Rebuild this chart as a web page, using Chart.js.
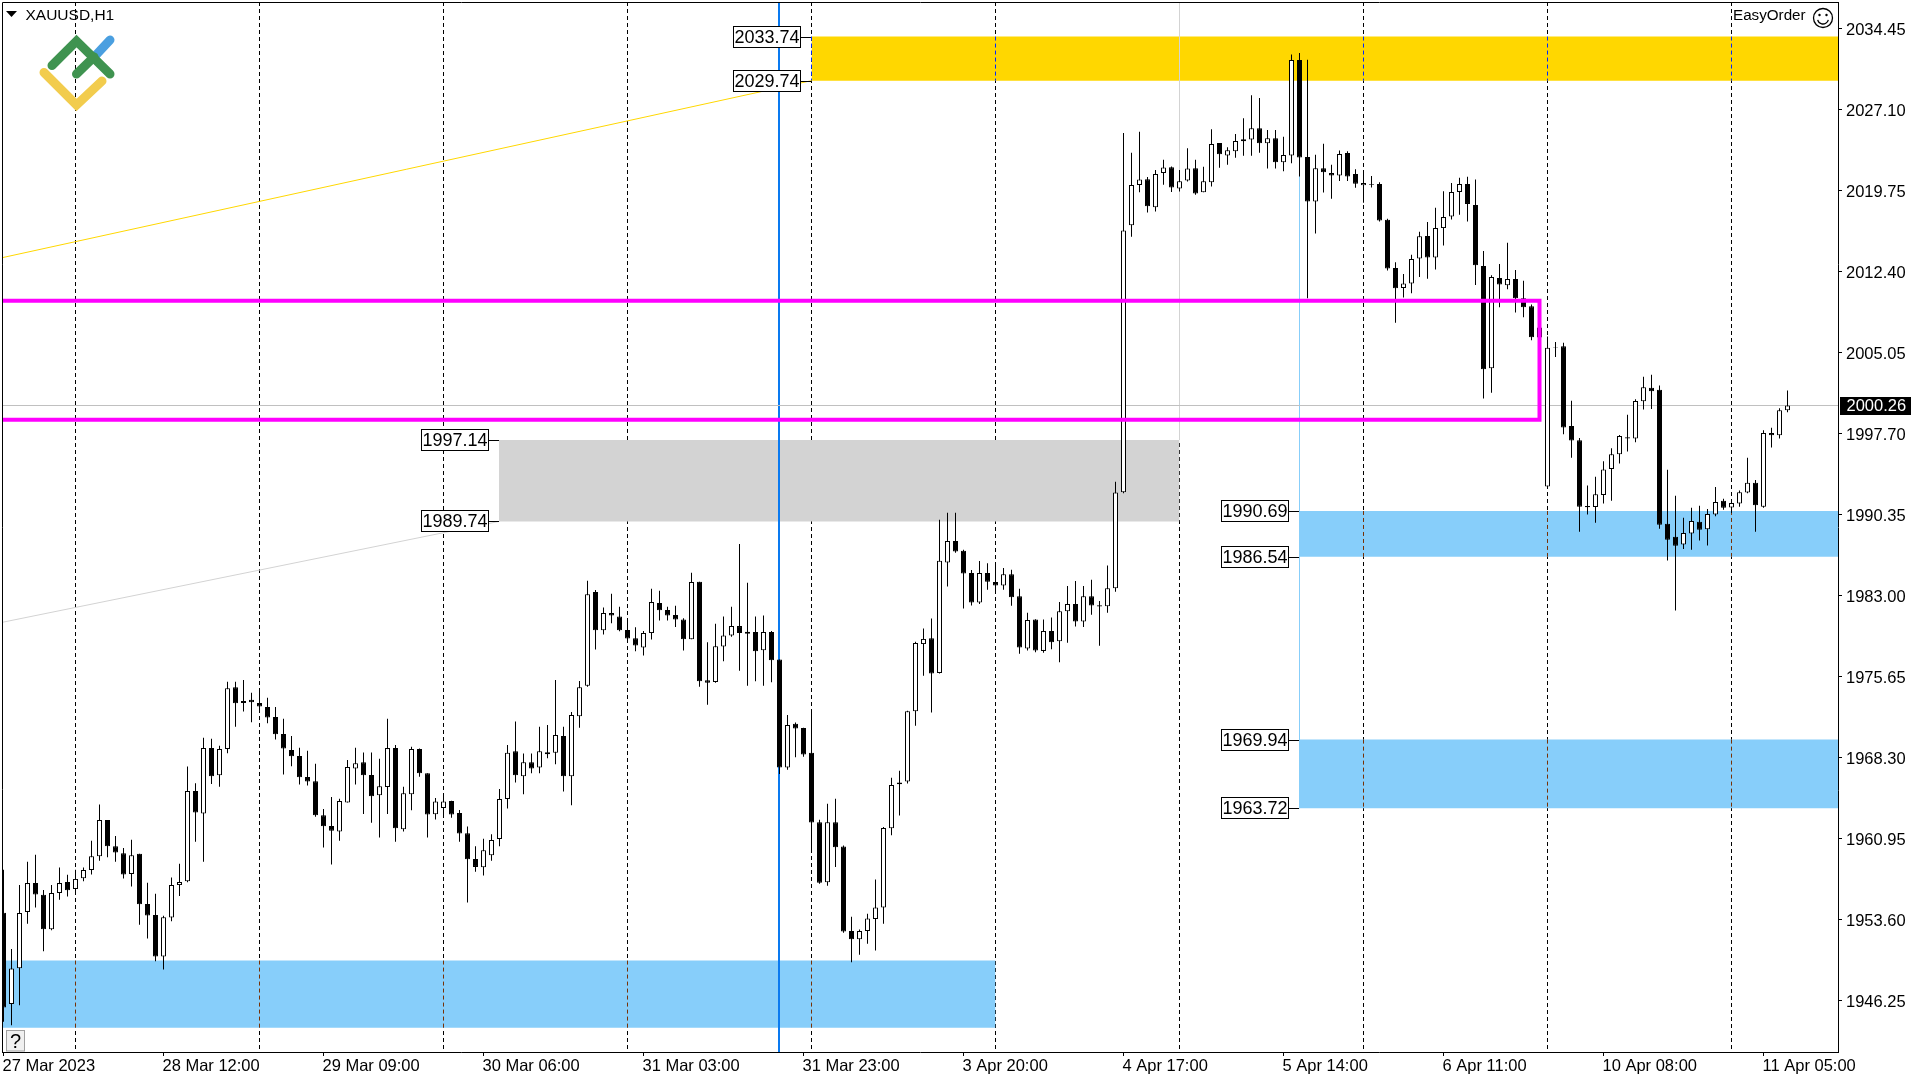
<!DOCTYPE html>
<html><head><meta charset="utf-8"><title>XAUUSD,H1</title>
<script src="https://cdn.jsdelivr.net/npm/chart.js@4/dist/chart.umd.js"></script>
<style>html,body{margin:0;padding:0;background:#fff}canvas{display:block}</style>
</head><body><canvas id="c" width="1920" height="1080"></canvas>
<script>
const opens=[1954.24,1945.95,1949.20,1954.30,1956.92,1955.86,1952.74,1956.02,1957.02,1956.39,
1957.36,1958.11,1959.36,1962.64,1960.27,1959.64,1957.74,1959.58,1955.02,1954.02,
1950.27,1953.80,1956.74,1957.08,1965.27,1963.24,1969.17,1966.70,1969.08,1974.70,
1973.27,1973.55,1973.27,1972.89,1971.99,1970.45,1968.99,1968.45,1966.55,1966.17,
1963.08,1962.11,1961.61,1964.24,1967.33,1967.89,1966.74,1964.89,1965.64,1969.17,
1961.80,1964.99,1969.08,1966.89,1963.17,1963.74,1964.36,1963.27,1961.45,1959.11,
1958.36,1959.45,1960.92,1964.55,1968.89,1966.61,1967.89,1967.42,1968.80,1968.74,
1970.27,1966.61,1972.05,1974.83,1983.33,1979.86,1981.42,1981.11,1979.89,1979.14,
1978.30,1979.61,1982.33,1981.70,1981.24,1980.83,1979.05,1984.27,1975.33,1975.17,
1978.39,1979.39,1980.24,1979.74,1979.70,1978.05,1979.70,1977.20,1967.42,1971.39,
1970.99,1968.74,1962.45,1956.99,1962.45,1960.24,1952.58,1951.83,1952.58,1953.67,
1954.70,1961.89,1965.89,1966.14,1972.52,1978.61,1979.14,1975.99,1986.02,1987.96,
1987.08,1985.05,1982.39,1985.05,1984.24,1983.92,1984.95,1982.95,1978.20,1980.83,
1977.99,1979.80,1978.86,1981.58,1982.24,1980.67,1982.95,1982.14,1982.05,1983.67,
1992.39,2016.61,2020.27,2020.80,2018.24,2021.36,2021.89,2019.95,2020.67,2021.80,
2019.61,2020.52,2024.08,2022.95,2023.33,2024.24,2024.39,2025.42,2024.05,2024.52,
2022.33,2022.95,2031.61,2022.80,2018.77,2021.80,2021.36,2021.14,2023.17,2021.27,
2020.24,2020.36,2020.36,2017.11,2012.74,2010.92,2011.33,2013.61,2015.64,2013.70,
2016.36,2017.42,2019.64,2020.36,2018.45,2012.92,2003.64,2011.83,2011.17,2011.74,
2009.99,2009.27,2007.34,1992.92,2005.52,2005.64,1998.39,1997.11,1991.14,1991.05,
1992.14,1994.49,1995.83,1997.39,1997.27,2000.64,2001.86,2001.70,1989.53,1988.35,
1987.65,1988.65,1989.71,1989.02,1990.38,1991.62,1991.01,1991.36,1992.36,1993.24,
1991.08,1997.77,1997.55,1999.83];
const highs=[1958.14,1950.95,1956.74,1958.86,1959.49,1956.30,1956.74,1958.33,1957.67,1958.14,
1958.33,1960.77,1964.05,1962.64,1961.20,1960.11,1960.86,1959.58,1956.95,1955.95,
1953.95,1957.42,1958.67,1967.49,1965.99,1970.11,1970.02,1969.39,1975.20,1975.20,
1975.36,1974.20,1974.42,1973.74,1972.89,1971.83,1970.27,1969.20,1968.92,1967.74,
1963.64,1964.74,1964.58,1968.08,1969.20,1968.77,1968.77,1968.20,1971.83,1969.45,
1965.67,1969.30,1969.14,1966.89,1964.64,1964.89,1964.39,1963.55,1962.05,1960.27,
1960.95,1961.36,1965.45,1969.45,1971.58,1968.67,1968.67,1971.11,1971.27,1975.36,
1971.11,1972.45,1975.27,1984.36,1983.52,1981.92,1983.17,1981.99,1980.83,1980.14,
1979.80,1983.64,1983.45,1981.99,1982.08,1980.95,1985.08,1984.27,1978.77,1980.45,
1981.11,1981.99,1987.70,1984.17,1981.11,1981.20,1979.80,1977.20,1972.17,1971.49,
1971.02,1972.61,1962.67,1964.11,1964.58,1960.33,1953.86,1952.70,1954.14,1957.24,
1962.02,1966.49,1967.11,1972.55,1978.83,1980.02,1980.92,1989.89,1990.53,1990.53,
1987.18,1985.33,1986.14,1985.95,1985.70,1985.52,1985.36,1983.64,1981.45,1980.86,
1980.83,1981.02,1982.42,1983.89,1984.33,1983.89,1984.45,1982.52,1985.74,1993.33,
2024.99,2023.20,2025.11,2020.99,2021.64,2022.55,2021.95,2021.64,2023.61,2022.55,
2021.92,2025.33,2024.08,2023.70,2024.89,2026.33,2028.42,2028.17,2025.27,2025.27,
2024.64,2032.11,2032.24,2031.64,2023.02,2024.02,2022.11,2023.39,2023.33,2021.70,
2021.64,2021.08,2020.52,2017.20,2013.27,2012.20,2013.95,2016.02,2016.92,2018.20,
2019.70,2020.45,2020.92,2021.02,2020.77,2014.27,2012.08,2013.11,2015.02,2012.55,
2011.58,2009.42,2007.34,2006.52,2006.02,2005.95,2000.70,1997.30,1992.99,1993.80,
1995.20,1996.39,1997.58,1999.42,2000.83,2002.86,2003.05,2002.08,1994.43,1992.07,
1990.08,1990.98,1991.16,1990.87,1992.86,1991.80,1991.71,1992.55,1995.52,1993.49,
1998.02,1998.24,2000.02,2001.61];
const lows=[1944.33,1944.02,1945.83,1953.24,1954.70,1950.74,1952.64,1955.42,1955.70,1956.14,
1957.08,1957.70,1958.95,1959.27,1958.86,1957.33,1956.61,1953.14,1951.89,1949.83,
1949.08,1953.45,1955.74,1956.99,1960.67,1958.86,1965.92,1965.67,1968.70,1971.11,
1972.49,1971.52,1972.45,1971.42,1969.95,1966.77,1967.52,1965.86,1965.77,1962.95,
1960.14,1958.61,1960.77,1964.24,1965.86,1963.20,1962.39,1961.05,1963.20,1960.67,
1961.61,1963.52,1966.58,1961.05,1962.70,1962.92,1962.86,1960.67,1955.17,1957.95,
1957.61,1958.95,1960.27,1963.70,1966.05,1964.99,1966.89,1966.89,1968.24,1967.70,
1965.24,1963.99,1971.02,1974.74,1978.11,1979.49,1980.49,1979.77,1978.99,1977.95,
1977.58,1979.02,1980.74,1980.74,1980.17,1978.02,1979.05,1974.74,1973.11,1975.11,
1977.05,1979.27,1976.20,1974.83,1975.24,1974.83,1975.14,1966.83,1967.20,1968.33,
1968.39,1959.89,1956.86,1956.67,1958.39,1952.42,1949.74,1950.42,1951.42,1950.80,
1953.24,1961.27,1963.05,1965.95,1971.20,1975.74,1972.39,1975.95,1983.84,1986.90,
1981.83,1982.11,1982.24,1983.55,1983.33,1983.55,1982.08,1977.74,1978.02,1977.86,
1977.83,1978.14,1976.95,1978.74,1980.20,1980.17,1981.27,1978.45,1981.45,1983.36,
1992.30,2015.58,2019.61,2017.77,2017.86,2020.30,2019.64,2019.67,2020.58,2019.39,
2019.61,2020.14,2021.83,2022.11,2022.74,2022.92,2022.92,2023.20,2021.77,2021.77,
2021.52,2022.24,2021.05,2009.99,2015.86,2019.58,2019.02,2020.64,2020.64,2020.02,
2018.67,2020.05,2016.95,2012.52,2007.77,2010.05,2010.45,2011.92,2011.77,2012.61,
2014.77,2017.14,2017.58,2016.95,2011.20,2000.89,2001.42,2009.17,2010.80,2008.70,
2008.27,2006.17,2006.30,1992.92,2004.67,1997.64,1995.52,1988.80,1990.36,1989.61,
1991.36,1991.61,1994.99,1996.08,1996.92,1999.89,1999.95,1989.08,1986.20,1981.66,
1987.24,1987.17,1988.02,1987.56,1990.20,1990.80,1990.50,1991.08,1992.30,1988.80,
1990.99,1996.45,1997.27,1999.64];
const closes=[1945.64,1949.17,1954.20,1956.92,1955.89,1952.74,1956.02,1956.92,1956.27,1957.30,
1958.11,1959.36,1962.64,1960.27,1959.70,1957.70,1959.45,1954.99,1953.99,1950.27,
1953.83,1956.74,1957.02,1965.27,1963.33,1969.17,1966.61,1969.08,1974.61,1973.24,
1973.45,1973.33,1972.95,1971.95,1970.42,1969.14,1968.42,1966.52,1966.14,1963.08,
1962.08,1961.67,1964.36,1967.45,1967.80,1966.70,1964.80,1965.70,1969.17,1961.89,
1965.08,1969.08,1966.89,1963.14,1964.33,1964.33,1963.14,1961.42,1959.08,1958.39,
1959.89,1960.83,1964.55,1968.74,1966.70,1967.89,1967.33,1968.89,1968.61,1970.36,
1966.61,1972.17,1974.70,1983.14,1979.86,1981.42,1981.20,1979.86,1979.11,1978.49,
1979.61,1982.42,1981.67,1981.20,1980.83,1979.05,1984.24,1975.24,1975.11,1978.42,
1979.39,1980.24,1979.61,1979.55,1977.95,1979.70,1977.14,1967.42,1971.27,1970.95,
1968.58,1962.42,1956.95,1962.45,1960.17,1952.52,1951.83,1952.58,1953.70,1954.70,
1961.92,1965.83,1966.05,1972.52,1978.70,1979.08,1975.95,1986.17,1987.96,1987.02,
1985.02,1982.39,1985.05,1984.27,1983.92,1984.95,1982.86,1978.30,1980.80,1978.02,
1979.80,1978.77,1981.58,1982.24,1980.67,1982.95,1982.11,1982.02,1983.67,1992.36,
2016.14,2020.27,2020.77,2018.33,2021.27,2021.86,2020.05,2020.61,2021.77,2019.49,
2020.61,2023.99,2023.05,2023.42,2024.27,2024.42,2025.42,2024.05,2024.52,2022.33,
2022.99,2031.61,2022.77,2018.77,2021.80,2021.42,2021.14,2023.08,2021.05,2020.39,
2020.45,2020.30,2017.05,2012.70,2010.89,2011.33,2013.55,2015.61,2013.70,2016.36,
2017.36,2019.64,2020.36,2018.55,2012.99,2003.55,2011.92,2011.24,2011.74,2009.99,
2009.17,2006.45,2006.44,2005.49,2005.58,1998.27,1997.08,1991.08,1991.02,1992.20,
1994.45,1995.83,1997.49,1997.27,2000.67,2001.92,2001.55,1989.44,1988.08,1987.54,
1988.69,1989.78,1988.99,1990.41,1991.50,1990.98,1991.41,1992.39,1993.24,1991.20,
1997.77,1997.55,1999.83,2000.26];

const priceTicks=[2034.45,2027.10,2019.75,2012.40,2005.05,1997.70,1990.35,1983.00,1975.65,1968.30,1960.95,1953.60,1946.25];
const timeLabels=['27 Mar 2023','28 Mar 12:00','29 Mar 09:00','30 Mar 06:00','31 Mar 03:00','31 Mar 23:00','3 Apr 20:00','4 Apr 17:00','5 Apr 14:00','6 Apr 11:00','10 Apr 08:00','11 Apr 05:00'];
const timeTickBars=[0,20,40,60,80,100,120,140,160,180,200,220];
const gridBars=[9,32,55,78,101,124,147,170,193,216];
const lastPrice=2000.26;
const xMin=-0.1875, xMax=229.3125, yMax=2036.876, yMin=1941.593;

const goldZone=[2033.74,2029.74], goldFrom=101;
const grayZone=[1997.14,1989.74], grayFrom=61.94, grayTo=147;
const blueLow=[1949.89,1943.80], blueLowTo=124;
const blueA=[1990.69,1986.54], blueB=[1969.94,1963.72], blueFrom=162;
const magenta=[2009.77,1998.97], magentaTo=192;
const goldTrend=[2013.67,2029.74];
const grayTrend=[1980.58,1989.74];
const cursorBar=96.9375;
const callouts=[[101,2033.74],[101,2029.74],[61.94,1997.14],[61.94,1989.74],[162,1990.69],[162,1986.54],[162,1969.94],[162,1963.72]];

const line=(pts,color,w,order,extra)=>Object.assign({type:'line',data:pts.map(p=>({x:p[0],y:p[1]})),borderColor:color,borderWidth:w,pointRadius:0,tension:0,fill:false,order},extra||{});
const zone=(x0,x1,z,color,order)=>({type:'line',data:[{x:x0,y:z[0]},{x:x1,y:z[0]}],borderWidth:0,borderColor:color,backgroundColor:color,pointRadius:0,tension:0,fill:{value:z[1]},order});
const DASH=[4,3];
const datasets=[];
// grid (lowest layer)
gridBars.forEach(b=>datasets.push(line([[b,yMax],[b,yMin]],'#000',1,90,{borderDash:DASH})));
// zones
datasets.push(zone(goldFrom,xMax,goldZone,'#FFD700',80));
datasets.push(zone(grayFrom,grayTo,grayZone,'#D3D3D3',80));
datasets.push(zone(xMin,blueLowTo,blueLow,'#87CEFA',80));
datasets.push(zone(blueFrom,xMax,blueA,'#87CEFA',80));
datasets.push(zone(blueFrom,xMax,blueB,'#87CEFA',80));
// grid seen through the zones
gridBars.filter(b=>b>=goldFrom&&b!==grayTo).forEach(b=>datasets.push(line([[b,goldZone[0]],[b,goldZone[1]]],'#0028FF',1,70,{borderDash:DASH})));
gridBars.filter(b=>b<blueLowTo).forEach(b=>datasets.push(line([[b,blueLow[0]],[b,blueLow[1]]],'#783105',1,70,{borderDash:DASH})));
gridBars.filter(b=>b>blueFrom).forEach(b=>{
  datasets.push(line([[b,blueA[0]],[b,blueA[1]]],'#783105',1,70,{borderDash:DASH}));
  datasets.push(line([[b,blueB[0]],[b,blueB[1]]],'#783105',1,70,{borderDash:DASH}));
});
// trend lines, vertical markers
datasets.push(line([[xMin,goldTrend[0]],[goldFrom,goldTrend[1]]],'#FFD700',1,60));
datasets.push(line([[xMin,grayTrend[0]],[grayFrom,grayTrend[1]]],'#D3D3D3',1,60));
datasets.push(line([[grayTo,yMax],[grayTo,grayZone[0]]],'#D3D3D3',1,60));
datasets.push(line([[blueFrom,goldZone[1]],[blueFrom,blueB[1]]],'#87CEFA',1,60));
datasets.push(line([[cursorBar,yMax],[cursorBar,yMin]],'#0A7AF0',2,55));
datasets.push(line([[xMin,lastPrice],[xMax,lastPrice]],'#C0C0C0',1,50));
// candles
const wicks={type:'bar',data:highs.map((h,i)=>({x:i,y:[lows[i],h]})),backgroundColor:'#000',borderWidth:0,barThickness:1,grouped:false,inflateAmount:0,order:20};
const bodies={type:'bar',data:opens.map((o,i)=>({x:i,y:[o,closes[i]]})),
  backgroundColor:c=>closes[c.dataIndex]>=opens[c.dataIndex]?'#fff':'#000',
  borderColor:'#000',borderWidth:1,borderSkipped:false,barThickness:5,grouped:false,inflateAmount:0,order:10};
datasets.push(wicks,bodies);
// magenta frame, above the candles
datasets.push(line([[xMin,magenta[0]],[magentaTo,magenta[0]],[magentaTo,magenta[1]],[xMin,magenta[1]]],'#FF00FF',4,1,{borderJoinStyle:'miter',borderCapStyle:'square'}));

const FONT='"Liberation Sans", Arial, sans-serif';
const overlay={id:'overlay',
 afterDraw(ch){
  const {ctx,chartArea:a,scales:{x,y}}=ch;
  ctx.save();
  // frame
  ctx.strokeStyle='#000';ctx.lineWidth=1;
  ctx.beginPath();ctx.moveTo(a.left+.5,a.bottom);ctx.lineTo(a.left+.5,a.top+.5);ctx.lineTo(a.right+.5,a.top+.5);ctx.stroke();
  // price callouts
  ctx.textBaseline='middle';ctx.textAlign='center';
  ctx.font='18px '+FONT;
  callouts.forEach(([b,p])=>{
    const ax=Math.floor(x.getPixelForValue(b)),py=Math.round(y.getPixelForValue(p));
    const r=ax-10,l=r-68;
    ctx.fillStyle='#fff';ctx.fillRect(l,py-11,68,22);
    ctx.strokeStyle='#000';ctx.strokeRect(l+.5,py-10.5,67,21);
    ctx.beginPath();ctx.moveTo(r,py+.5);ctx.lineTo(ax,py+.5);ctx.stroke();
    ctx.fillStyle='#000';ctx.fillText(p.toFixed(2),l+34,py+1.5);
  });
  // current price tag
  const py=y.getPixelForValue(lastPrice);
  ctx.fillStyle='#000';ctx.fillRect(1840,Math.round(py)-9,71,18);
  ctx.fillStyle='#fff';ctx.font='16.5px '+FONT;ctx.textAlign='left';ctx.fillText(lastPrice.toFixed(2),1846.5,py+1);
  // title
  ctx.fillStyle='#000';
  ctx.beginPath();ctx.moveTo(6,11);ctx.lineTo(17,11);ctx.lineTo(11.5,17);ctx.closePath();ctx.fill();
  ctx.font='15.5px '+FONT;ctx.textAlign='left';ctx.fillText('XAUUSD,H1',25.5,16);
  // EasyOrder
  ctx.font='15.2px '+FONT;ctx.fillText('EasyOrder',1733,16);
  ctx.lineWidth=1.3;ctx.strokeStyle='#000';
  ctx.beginPath();ctx.arc(1823,18,9.5,0,Math.PI*2);ctx.stroke();
  ctx.beginPath();ctx.arc(1823,18.5,5.5,.25,Math.PI-.25);ctx.stroke();
  ctx.beginPath();ctx.arc(1819.5,15,1.2,0,7);ctx.arc(1826.5,15,1.2,0,7);ctx.fill();
  // logo
  ctx.lineCap='round';ctx.lineJoin='miter';ctx.lineWidth=9;
  const st=(c,pts)=>{ctx.strokeStyle=c;ctx.beginPath();pts.forEach((q,i)=>i?ctx.lineTo(q[0],q[1]):ctx.moveTo(q[0],q[1]));ctx.stroke();};
  st('#4A9FE0',[[96,55],[110,40]]);
  st('#3F9350',[[52,65.5],[76.5,41],[110,74]]);
  st('#3F9350',[[76.5,74],[94,57]]);
  st('#F2CC4D',[[44,72.5],[76.5,105],[102,81]]);
  // help button
  ctx.lineCap='butt';ctx.lineWidth=1;
  ctx.fillStyle='#F0F0F0';ctx.fillRect(7,1031,18,20);
  ctx.strokeStyle='#A0A0A0';ctx.strokeRect(6.5,1030.5,18,20.5);
  ctx.fillStyle='#000';ctx.font='20px '+FONT;ctx.textAlign='center';ctx.fillText('?',15.5,1042);
  ctx.restore();
 }};

new Chart(document.getElementById('c'),{
 type:'bar',
 data:{datasets},
 plugins:[overlay],
 options:{
  responsive:false,animation:false,devicePixelRatio:1,events:[],
  layout:{padding:{left:2,top:2,right:0,bottom:0}},
  plugins:{legend:{display:false},tooltip:{enabled:false}},
  scales:{
   x:{type:'linear',offset:false,min:xMin,max:xMax,
    grid:{display:true,drawOnChartArea:false,drawTicks:true,tickLength:4,tickColor:'#000',offset:false},
    border:{display:true,color:'#000',width:1},
    afterBuildTicks(s){s.ticks=timeTickBars.map(v=>({value:v}));},
    afterFit(s){s.height=28;s.paddingLeft=s.paddingRight=s.paddingTop=s.paddingBottom=0;},
    ticks:{autoSkip:false,maxRotation:0,minRotation:0,align:'start',padding:1,labelOffset:-1,color:'#000',font:{family:FONT,size:16.5},
      callback:v=>timeLabels[timeTickBars.indexOf(v)]}
   },
   y:{type:'linear',position:'right',min:yMin,max:yMax,
    grid:{display:true,drawOnChartArea:false,drawTicks:true,tickLength:4,tickColor:'#000'},
    border:{display:true,color:'#000',width:1},
    afterBuildTicks(s){s.ticks=priceTicks.map(v=>({value:v}));},
    afterFit(s){s.width=82;s.paddingLeft=s.paddingRight=s.paddingTop=s.paddingBottom=0;},
    ticks:{autoSkip:false,padding:4,labelOffset:1.5,color:'#000',font:{family:FONT,size:16.5},callback:v=>v.toFixed(2)}
   }
  }
 }
});
</script></body></html>
